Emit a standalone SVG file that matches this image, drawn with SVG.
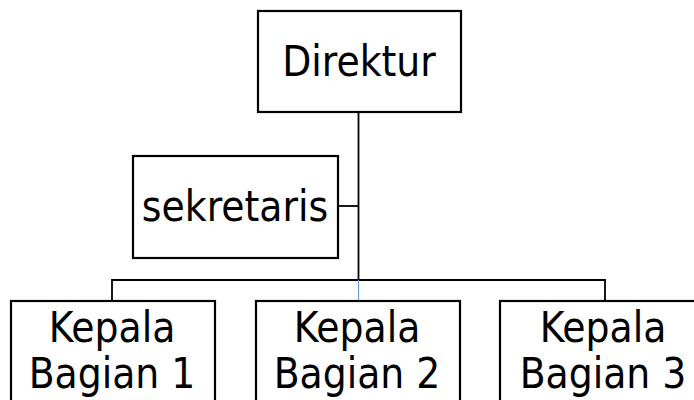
<svg xmlns="http://www.w3.org/2000/svg" width="694" height="400" viewBox="0 0 694 400">
<style>
.box{fill:#fff;stroke:#000;stroke-width:2.2}
.t{font-family:"DejaVu Sans Condensed","DejaVu Sans",sans-serif;font-size:42px;text-anchor:middle;fill:#000}
.c{stroke:#000;stroke-width:1.8;fill:none}
</style>
<rect width="694" height="400" fill="#fff"/>
<g id="connectors">
<line class="c" x1="358.5" y1="112" x2="358.5" y2="280"/>
<line class="c" x1="338" y1="206" x2="358.5" y2="206"/>
<polyline class="c" points="112,301 112,280 605,280 605,301"/>
<line x1="358.5" y1="280" x2="358.5" y2="301" stroke="#5b9bd5" stroke-width="1"/>
</g>
<g id="direktur">
<rect class="box" x="258" y="11" width="203" height="101"/>
<text class="t" x="359" y="76">Direktur</text>
</g>
<g id="sekretaris">
<rect class="box" x="133" y="156" width="205" height="102"/>
<text class="t" x="235" y="221">sekretaris</text>
</g>
<g id="kb1">
<rect class="box" x="11" y="301" width="204" height="110"/>
<text class="t" x="112" y="342">Kepala</text>
<text class="t" x="112" y="388">Bagian 1</text>
</g>
<g id="kb2">
<rect class="box" x="256" y="301" width="204" height="110"/>
<text class="t" x="357" y="342">Kepala</text>
<text class="t" x="357" y="388">Bagian 2</text>
</g>
<g id="kb3">
<rect class="box" x="500" y="301" width="206" height="110"/>
<text class="t" x="603" y="342">Kepala</text>
<text class="t" x="603" y="388">Bagian 3</text>
</g>
</svg>
